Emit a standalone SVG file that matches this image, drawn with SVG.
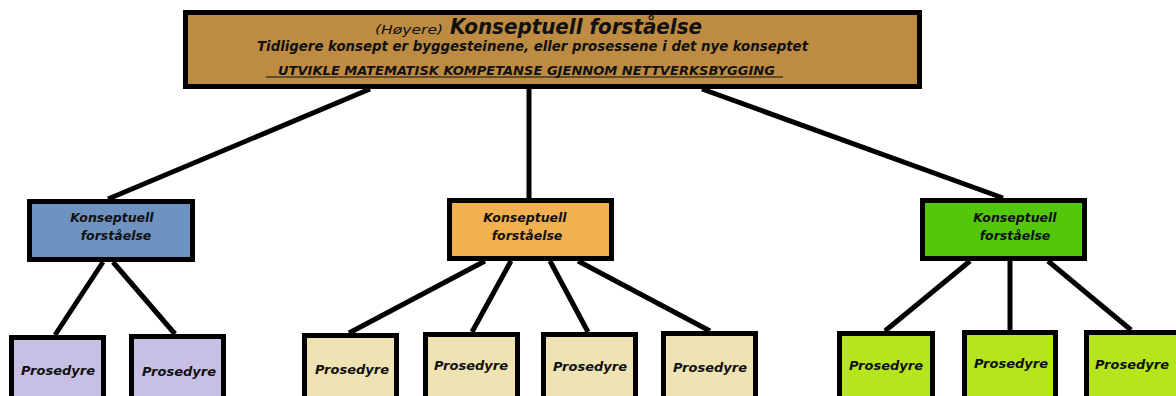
<svg xmlns="http://www.w3.org/2000/svg" width="1176" height="396" viewBox="0 0 1176 396">
<style>
.box{stroke:#000;stroke-width:5}
.ln{stroke:#000;stroke-width:5;fill:none}
.t{font-family:"DejaVu Sans",Verdana,sans-serif;font-weight:bold;font-style:italic;fill:#111;text-anchor:middle}
.c{font-family:"DejaVu Sans Condensed","DejaVu Sans",sans-serif;font-style:italic;fill:#111}
</style>
<rect width="1176" height="396" fill="#fff"/>
<g id="connectors">
<line class="ln" x1="370" y1="89" x2="108" y2="199"/>
<line class="ln" x1="529" y1="89" x2="529" y2="198"/>
<line class="ln" x1="702" y1="89" x2="1003" y2="198"/>
<line class="ln" x1="103" y1="262" x2="55" y2="335"/>
<line class="ln" x1="113" y1="262" x2="175" y2="334"/>
<line class="ln" x1="485" y1="261" x2="349" y2="333"/>
<line class="ln" x1="511" y1="261" x2="472" y2="332"/>
<line class="ln" x1="550" y1="261" x2="588" y2="332"/>
<line class="ln" x1="578" y1="261" x2="710" y2="331"/>
<line class="ln" x1="970" y1="261" x2="885" y2="331"/>
<line class="ln" x1="1010" y1="261" x2="1010" y2="330"/>
<line class="ln" x1="1048" y1="261" x2="1131" y2="330"/>
</g>
<g id="top">
<rect class="box" x="185.5" y="12.5" width="734" height="74" fill="#bd8b42"/>
<text class="c" x="375" y="34" font-size="13" textLength="68" lengthAdjust="spacingAndGlyphs">(Høyere)</text>
<text class="c" x="450" y="34" font-size="21" font-weight="bold" textLength="252" lengthAdjust="spacingAndGlyphs">Konseptuell forståelse</text>
<text class="c" x="257" y="51" font-size="13.5" font-weight="bold" textLength="551" lengthAdjust="spacingAndGlyphs">Tidligere konsept er byggesteinene, eller prosessene i det nye konseptet</text>
<text class="c" x="278" y="75" font-size="12" font-weight="bold" textLength="497" lengthAdjust="spacingAndGlyphs">UTVIKLE MATEMATISK KOMPETANSE GJENNOM NETTVERKSBYGGING</text>
<line x1="266" y1="77" x2="783" y2="77" stroke="#111" stroke-width="1.2"/>
</g>
<g id="k1">
<rect class="box" x="29.5" y="201.5" width="163" height="58" fill="#6f93c0"/>
<text class="t" x="112" y="222" font-size="12.5">Konseptuell</text>
<text class="t" x="116" y="240" font-size="12.5">forståelse</text>
</g>
<g id="k2">
<rect class="box" x="449.5" y="200.5" width="162" height="58" fill="#f2b050"/>
<text class="t" x="525" y="222" font-size="12.5">Konseptuell</text>
<text class="t" x="527" y="240" font-size="12.5">forståelse</text>
</g>
<g id="k3">
<rect class="box" x="922.5" y="200.5" width="162" height="58" fill="#53c70a"/>
<text class="t" x="1015" y="222" font-size="12.5">Konseptuell</text>
<text class="t" x="1015" y="240" font-size="12.5">forståelse</text>
</g>
<g id="p1"><rect class="box" x="11.5" y="337.5" width="92" height="70" fill="#c8bfe5"/><text class="t" x="58" y="375" font-size="13">Prosedyre</text></g>
<g id="p2"><rect class="box" x="131.5" y="336.5" width="92" height="70" fill="#c8bfe5"/><text class="t" x="179" y="376" font-size="13">Prosedyre</text></g>
<g id="p3"><rect class="box" x="304.5" y="335.5" width="92" height="70" fill="#efe3b3"/><text class="t" x="352" y="374" font-size="13">Prosedyre</text></g>
<g id="p4"><rect class="box" x="425.5" y="334.5" width="92" height="70" fill="#efe3b3"/><text class="t" x="471" y="370" font-size="13">Prosedyre</text></g>
<g id="p5"><rect class="box" x="543.5" y="334.5" width="92" height="70" fill="#efe3b3"/><text class="t" x="590" y="371" font-size="13">Prosedyre</text></g>
<g id="p6"><rect class="box" x="663.5" y="333.5" width="92" height="70" fill="#efe3b3"/><text class="t" x="710" y="372" font-size="13">Prosedyre</text></g>
<g id="p7"><rect class="box" x="839.5" y="333.5" width="93" height="70" fill="#b5e61d"/><text class="t" x="886" y="370" font-size="13">Prosedyre</text></g>
<g id="p8"><rect class="box" x="964.5" y="332.5" width="91" height="70" fill="#b5e61d"/><text class="t" x="1011" y="368" font-size="13">Prosedyre</text></g>
<g id="p9"><rect class="box" x="1086.5" y="332.5" width="95" height="70" fill="#b5e61d"/><text class="t" x="1132" y="369" font-size="13">Prosedyre</text></g>
</svg>
